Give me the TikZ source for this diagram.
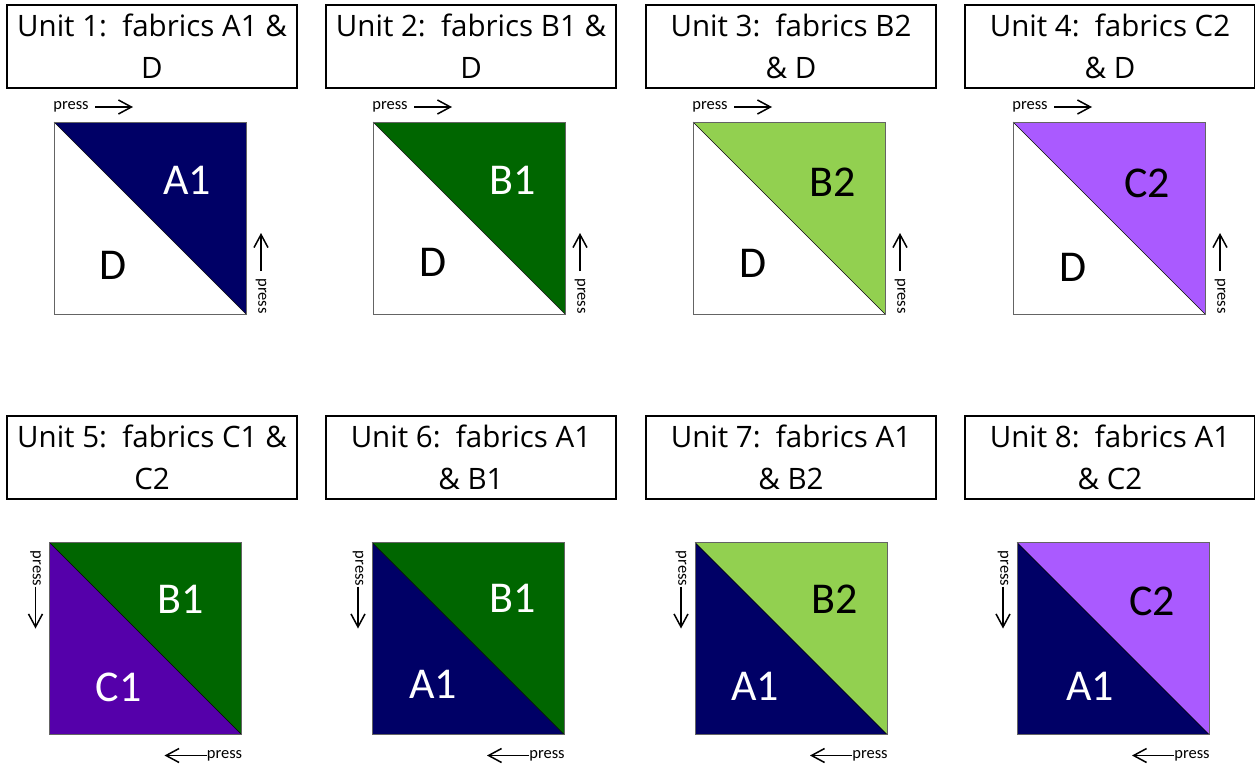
\documentclass[tikz,border=0pt]{standalone}
\usepackage{fontspec}
\setmainfont{Carlito}
\newfontfamily\titlefont{Open Sans}
\usetikzlibrary{arrows.meta}
\definecolor{cAone}{RGB}{0,0,102}
\definecolor{cBone}{RGB}{0,102,0}
\definecolor{cBtwo}{RGB}{146,208,80}
\definecolor{cCone}{RGB}{85,0,170}
\definecolor{cCtwo}{RGB}{170,90,255}
\definecolor{edgegray}{RGB}{100,100,100}
\tikzset{
  titlebox/.style={draw, line width=2pt, minimum width=290pt, minimum height=83pt, inner sep=0pt, align=center, font=\titlefont\fontsize{29.5}{42}\selectfont},
  sqnode/.style={minimum size=192pt, inner sep=0pt, outer sep=0pt},
  fab/.style={font=\fontsize{44}{44}\selectfont, inner sep=0pt},
  presslbl/.style={font=\fontsize{16.5}{16.5}\selectfont, inner sep=0pt},
  parrow/.style={-{Straight Barb[length=13pt,width=14pt,line width=1.5pt]}, line width=1.5pt},
  sqedge/.style={draw=edgegray, line width=1pt},
  diagline/.style={draw=black, line width=0.6pt}
}
\newcommand\qsquare[4]{%
  \node[sqnode] (#1) at (#2) {};
  \fill[#3] (#1.north west) -- (#1.north east) -- (#1.south east) -- cycle;
  \fill[#4] (#1.north west) -- (#1.south west) -- (#1.south east) -- cycle;
  \draw[diagline] (#1.north west) -- (#1.south east);
  \draw[sqedge] (#1.north west) rectangle (#1.south east);
}
\newcommand\toppress[1]{%
  \node[presslbl] (#1pt) at ([shift={(17,-15)}]#1.north west) {press};
  \draw[parrow] ([shift={(41,-15)}]#1.north west) -- ([shift={(79,-15)}]#1.north west);
  \node[presslbl, rotate=-90] (#1pr) at ([shift={(15,-18)}]#1.south east) {press};
  \draw[parrow] ([shift={(15,-43)}]#1.south east) -- ([shift={(15,-81)}]#1.south east);
}
\newcommand\botpress[1]{%
  \node[presslbl, rotate=-90] (#1pl) at ([shift={(-14,26)}]#1.north west) {press};
  \draw[parrow] ([shift={(-14,44)}]#1.north west) -- ([shift={(-14,86)}]#1.north west);
  \node[presslbl] (#1pb) at ([shift={(-17,21)}]#1.south east) {press};
  \draw[parrow] ([shift={(-35,21)}]#1.south east) -- ([shift={(-77,21)}]#1.south east);
}
\begin{document}
\begin{tikzpicture}[x=1pt,y=-1pt]
\useasboundingbox (0,0) rectangle (1255,766);
% titles
\node[titlebox] (t1) at (152,46.5) {Unit 1:\ \ fabrics A1 \&\\D};
\node[titlebox] (t2) at (471,46.5) {Unit 2:\ \ fabrics B1 \&\\D};
\node[titlebox] (t3) at (791,46.5) {Unit 3:\ \ fabrics B2\\\& D};
\node[titlebox] (t4) at (1110,46.5) {Unit 4:\ \ fabrics C2\\\& D};
\node[titlebox] (t5) at (152,457) {Unit 5:\ \ fabrics C1 \&\\C2};
\node[titlebox] (t6) at (471,457) {Unit 6:\ \ fabrics A1\\\& B1};
\node[titlebox] (t7) at (791,457) {Unit 7:\ \ fabrics A1\\\& B2};
\node[titlebox] (t8) at (1110,457) {Unit 8:\ \ fabrics A1\\\& C2};
% squares
\qsquare{s1}{150,218}{cAone}{white}
\qsquare{s2}{469,218}{cBone}{white}
\qsquare{s3}{789,218}{cBtwo}{white}
\qsquare{s4}{1109,218}{cCtwo}{white}
\qsquare{s5}{145.5,638.5}{cBone}{cCone}
\qsquare{s6}{468,638.5}{cBone}{cAone}
\qsquare{s7}{791,638.5}{cBtwo}{cAone}
\qsquare{s8}{1113,638.5}{cCtwo}{cAone}
% fabric labels
\node[fab, text=white] (l1a) at ([shift={(37,-38)}]s1.center) {A1};
\node[fab] (l1b) at ([shift={(-37,47)}]s1.center) {D};
\node[fab, text=white] (l2a) at ([shift={(44,-38)}]s2.center) {B1};
\node[fab] (l2b) at ([shift={(-36,44)}]s2.center) {D};
\node[fab] (l3a) at ([shift={(44,-36)}]s3.center) {B2};
\node[fab] (l3b) at ([shift={(-36,45)}]s3.center) {D};
\node[fab] (l4a) at ([shift={(38,-35)}]s4.center) {C2};
\node[fab] (l4b) at ([shift={(-36,49)}]s4.center) {D};
\node[fab, text=white] (l5a) at ([shift={(35,-39)}]s5.center) {B1};
\node[fab, text=white] (l5b) at ([shift={(-27,49)}]s5.center) {C1};
\node[fab, text=white] (l6a) at ([shift={(45,-40)}]s6.center) {B1};
\node[fab, text=white] (l6b) at ([shift={(-35,46)}]s6.center) {A1};
\node[fab] (l7a) at ([shift={(44,-39)}]s7.center) {B2};
\node[fab, text=white] (l7b) at ([shift={(-36,48)}]s7.center) {A1};
\node[fab] (l8a) at ([shift={(39,-37)}]s8.center) {C2};
\node[fab, text=white] (l8b) at ([shift={(-23,48)}]s8.center) {A1};
% press arrows
\toppress{s1}
\toppress{s2}
\toppress{s3}
\toppress{s4}
\botpress{s5}
\botpress{s6}
\botpress{s7}
\botpress{s8}
\end{tikzpicture}
\end{document}
